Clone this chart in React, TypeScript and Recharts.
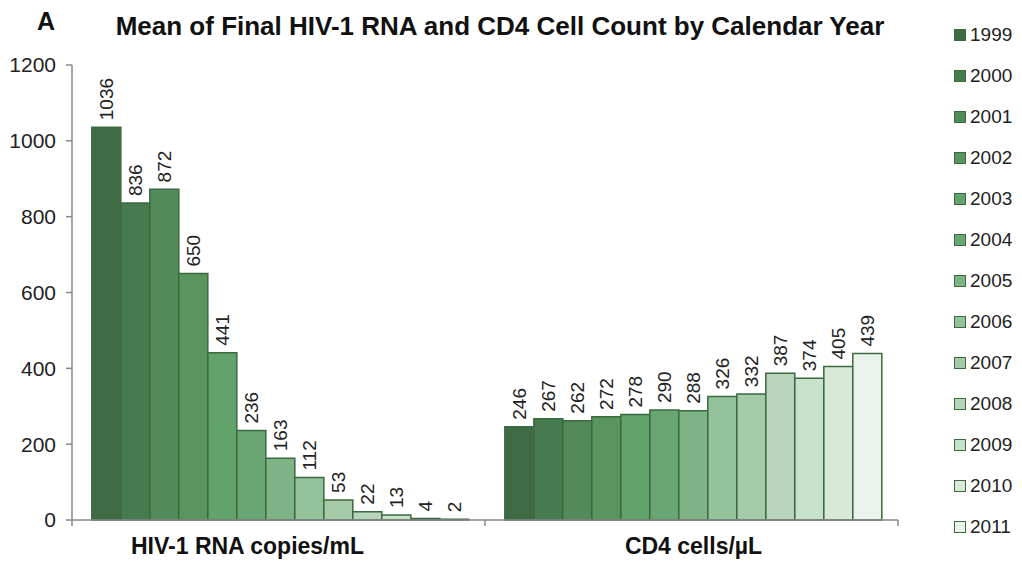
import React from 'react';
import { BarChart, Bar, XAxis, YAxis, LabelList } from 'recharts';

const years = ['1999', '2000', '2001', '2002', '2003', '2004', '2005', '2006', '2007', '2008', '2009', '2010', '2011'];
const categories = ['HIV-1 RNA copies/mL', 'CD4 cells/\u00b5L'];
const rnaValues = [1036, 836, 872, 650, 441, 236, 163, 112, 53, 22, 13, 4, 2];
const cd4Values = [246, 267, 262, 272, 278, 290, 288, 326, 332, 387, 374, 405, 439];
const yTicks = [0, 200, 400, 600, 800, 1000, 1200];

const colors = [
  '#3e6b44', '#487a50', '#528a5a', '#5a955f', '#62a26b', '#6aa673', '#7eb386',
  '#94c29a', '#a5caa7', '#b8d5bc', '#c7e2cb', '#d8e9da', '#eaf3eb',
];
const STROKE = '#3b6a40';
const FONT = 'Arial, "Liberation Sans", sans-serif';
// the first category label sits a little left of its band centre in the original
const labelShift = [-31, 2];

const data = categories.map((name, ci) => {
  const row: Record<string, string | number> = { name };
  const vals = ci === 0 ? rnaValues : cd4Values;
  years.forEach((y, i) => { row[y] = vals[i]; });
  return row;
});

const VerticalLabel = (props: any) => {
  const { x, y, width, value } = props;
  const cx = x + width / 2;
  const ty = y - 7;
  return (
    <text
      x={cx}
      y={ty}
      transform={`rotate(-90, ${cx}, ${ty})`}
      textAnchor="start"
      dominantBaseline="central"
      fontSize={19}
      fontFamily={FONT}
      fill="#222"
    >
      {value}
    </text>
  );
};

const CategoryTick = (props: any) => {
  const { x, y, payload, index, visibleTicksCount } = props;
  const half = payload?.offset || 206.5;
  const isLast = index === (visibleTicksCount ?? 2) - 1;
  return (
    <g>
      <line x1={x - half} y1={y - 8} x2={x - half} y2={y - 2} stroke="#888" strokeWidth={1.5} />
      {isLast && <line x1={x + half} y1={y - 8} x2={x + half} y2={y - 2} stroke="#888" strokeWidth={1.5} />}
      <text x={x + (labelShift[index] || 0)} y={y + 26} textAnchor="middle" fontSize={23} fontWeight="bold" fontFamily={FONT} fill="#111">
        {payload.value}
      </text>
    </g>
  );
};

const App: React.FC = () => {
  return (
    <div style={{ position: 'absolute', left: 0, top: 0, width: 1022, height: 561, background: '#fff', fontFamily: FONT }}>
      <div style={{ position: 'absolute', left: 37, top: 7, fontSize: 25, fontWeight: 'bold', color: '#111' }}>A</div>
      <div style={{ position: 'absolute', left: 0, width: 1000, top: 11, textAlign: 'center', fontSize: 26, fontWeight: 'bold', color: '#111' }}>
        Mean of Final HIV-1 RNA and CD4 Cell Count by Calendar Year
      </div>

      <BarChart
        width={1022}
        height={561}
        data={data}
        margin={{ top: 65, right: 124, bottom: 0, left: 0 }}
        barCategoryGap="4.8%"
        barGap={0}
      >
        <XAxis
          dataKey="name"
          height={41}
          axisLine={{ stroke: '#888', strokeWidth: 1.5 }}
          tickLine={false}
          tick={<CategoryTick />}
          interval={0}
        />
        <YAxis
          width={72}
          domain={[0, 1200]}
          ticks={yTicks}
          axisLine={{ stroke: '#888', strokeWidth: 1.5 }}
          tickLine={{ stroke: '#888', strokeWidth: 1.5 }}
          tickSize={6}
          tickMargin={10}
          tick={{ fontSize: 21, fill: '#222', fontFamily: FONT }}
        />
        {years.map((y, i) => (
          <Bar key={y} dataKey={y} fill={colors[i]} stroke={STROKE} strokeWidth={1.5} isAnimationActive={false}>
            <LabelList dataKey={y} content={<VerticalLabel />} />
          </Bar>
        ))}
      </BarChart>

      <div style={{ position: 'absolute', left: 954, top: 14 }}>
        {years.map((y, i) => (
          <div key={y} style={{ height: 41, display: 'flex', alignItems: 'center', fontSize: 19, color: '#222' }}>
            <span style={{ width: 10, height: 10, background: colors[i], border: `1px solid ${STROKE}`, marginRight: 4, display: 'inline-block' }} />
            {y}
          </div>
        ))}
      </div>
    </div>
  );
};

export default App;
